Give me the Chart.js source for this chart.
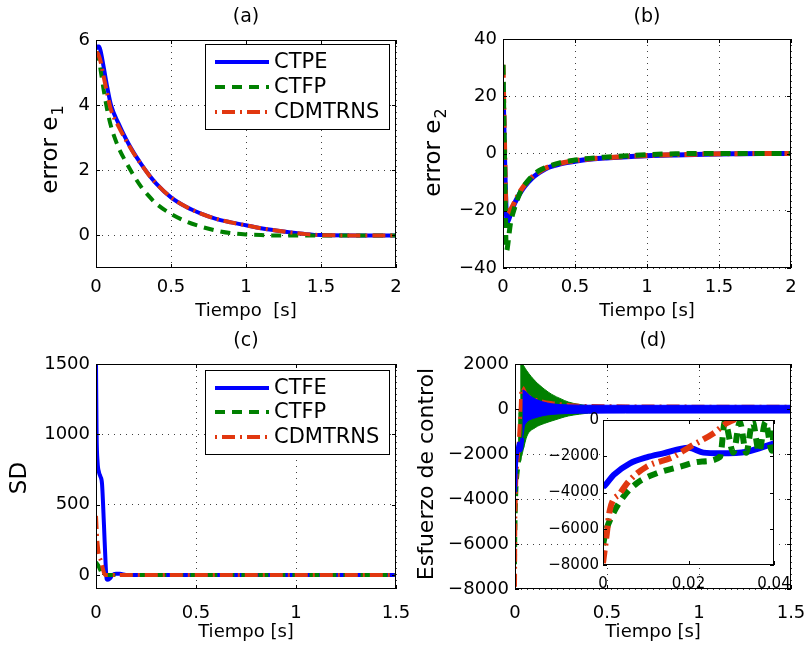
<!DOCTYPE html>
<html>
<head>
<meta charset="utf-8">
<title>Errores y esfuerzo de control</title>
<script src="https://cdn.jsdelivr.net/npm/chart.js@4.4.1/dist/chart.umd.min.js"></script>
<style>
  html, body { margin: 0; padding: 0; background: #fff; }
  body { position: relative; width: 804px; height: 652px; overflow: hidden; }
  canvas { position: absolute; }
</style>
</head>
<body>
<canvas id="panelA" width="430" height="326" style="left:0px;top:0px"></canvas>
<canvas id="panelB" width="430" height="326" style="left:402px;top:0px"></canvas>
<canvas id="panelC" width="430" height="326" style="left:0px;top:326px"></canvas>
<canvas id="panelD" width="430" height="326" style="left:402px;top:326px"></canvas>
<canvas id="inset" width="260" height="200" style="left:540px;top:400px"></canvas>
<script>
// ---- data ----

// (a) error e1
const timeA = [0, 0.01, 0.02, 0.03, 0.05, 0.075, 0.1, 0.15, 0.2, 0.25, 0.3, 0.35, 0.4, 0.5, 0.6, 0.7, 0.8, 0.9, 1.0, 1.1, 1.2, 1.3, 1.4, 1.5, 1.75, 2.0];
const e1CTPE = [5.72, 5.8, 5.8, 5.68, 5.2, 4.55, 4.0, 3.44, 2.96, 2.55, 2.2, 1.88, 1.6, 1.17, 0.88, 0.67, 0.51, 0.4, 0.31, 0.22, 0.15, 0.09, 0.04, 0.01, 0, 0];
const e1CTFP = [5.65, 5.6, 5.4, 5.1, 4.5, 3.85, 3.35, 2.7, 2.25, 1.85, 1.5, 1.22, 0.98, 0.66, 0.43, 0.27, 0.15, 0.07, 0.03, 0.01, 0, 0, 0, 0, 0, 0];
const e1CDMTRNS = [5.6, 5.6, 5.5, 5.35, 4.9, 4.35, 3.85, 3.35, 2.92, 2.53, 2.19, 1.87, 1.6, 1.17, 0.88, 0.67, 0.51, 0.4, 0.31, 0.22, 0.15, 0.09, 0.04, 0.01, 0, 0];

// (b) error e2
const timeB = [0, 0.005, 0.01, 0.015, 0.02, 0.025, 0.03, 0.04, 0.05, 0.06, 0.08, 0.1, 0.125, 0.15, 0.2, 0.25, 0.3, 0.4, 0.5, 0.6, 0.7, 0.8, 1.0, 1.2, 1.4, 1.6, 1.8, 2.0];
const e2CTPE = [25, 12, 0, -10, -18, -22, -24, -23, -21.5, -20, -17.5, -15.5, -13.3, -11.5, -8.7, -6.7, -5.2, -3.6, -2.7, -2.0, -1.6, -1.3, -0.8, -0.5, -0.25, -0.1, 0, 0];
const e2CTFP = [31, 15, 0, -17, -30, -34, -33, -29, -25, -22.5, -19, -16, -13, -11, -8, -6, -4.8, -3.2, -2.3, -1.7, -1.3, -1.0, -0.4, -0.1, 0, 0, 0, 0];
const e2CDMTRNS = [31, 18, 5, -8, -19, -20.5, -21, -20.5, -20, -19, -17, -15, -12.8, -11, -8.3, -6.4, -5.0, -3.4, -2.5, -1.9, -1.5, -1.2, -0.7, -0.4, -0.2, -0.05, 0, 0];

// (c) SD
const timeSDBlue = [0, 0.003, 0.008, 0.015, 0.022, 0.03, 0.04, 0.048, 0.053, 0.06, 0.07, 0.08, 0.1, 0.12, 0.15, 0.5, 1.0, 1.5];
const sdCTFE = [1500, 1000, 800, 730, 700, 650, 350, 80, -30, -35, -25, -5, 8, 8, 0, 0, 0, 0];
const timeSDGreen = [0, 0.01, 0.02, 0.03, 0.04, 0.05, 0.1, 0.5, 1.0, 1.5];
const sdCTFP = [90, 70, 40, 10, -3, 0, 0, 0, 0, 0];
const timeSDRed = [0, 0.004, 0.008, 0.015, 0.025, 0.035, 0.045, 0.1, 0.5, 1.0, 1.5];
const sdCDMTRNS = [420, 300, 220, 140, 100, 40, 0, 0, 0, 0, 0];

// (d) esfuerzo de control
const timeUBlue = [0, 0.0005, 0.0025, 0.0063, 0.0102, 0.0141, 0.02, 0.0235, 0.0274, 0.0336, 0.04];
const uCTFE = [-3700, -3600, -3030, -2390, -2060, -1840, -1530, -1800, -1840, -1750, -1290];
const timeUBlueBand = [0.04, 0.045, 0.05, 0.06, 0.08, 0.11, 0.15, 0.2, 0.29, 0.4, 0.6, 1.0, 1.5];
const uCTFEUpper = [820, 840, 820, 760, 600, 440, 320, 230, 180, 170, 165, 165, 165];
const uCTFELower = [-1300, -1100, -800, -620, -480, -390, -300, -240, -200, -185, -180, -180, -180];

const timeUGreen = [0, 0.0006, 0.0024, 0.0048, 0.0079, 0.0126, 0.018, 0.0227, 0.0274, 0.0285, 0.0305, 0.032, 0.0335, 0.035, 0.0365, 0.038, 0.0395, 0.04];
const uCTFP = [-6900, -6200, -5150, -4230, -3490, -2940, -2580, -2300, -2030, -100, -1800, -100, -1800, -100, -1750, -100, -1700, -200];
const timeUGreenBand = [0.028, 0.035, 0.045, 0.065, 0.11, 0.16, 0.2, 0.25, 0.29, 0.35, 0.4, 0.5, 0.6, 1.5];
const uCTFPUpper = [2100, 2100, 1950, 1690, 1240, 880, 650, 450, 310, 200, 150, 110, 90, 90];
const uCTFPLower = [-2000, -2100, -1800, -1200, -830, -640, -530, -400, -310, -230, -180, -130, -110, -110];

const timeURed = [0, 0.0009, 0.0016, 0.004, 0.0063, 0.0102, 0.0165, 0.0204, 0.0258, 0.0289, 0.0312, 0.035, 0.04, 0.05, 0.06, 0.1, 0.15, 0.2, 0.25, 0.3, 0.4, 1.5];
const uCDMTRNS = [-7900, -6250, -4970, -4040, -3310, -2580, -2030, -1470, -740, -180, 100, 900, 950, 800, 650, 450, 330, 260, 210, 170, 130, 100];

// tick values
const timeTicks2 = [0, 0.5, 1, 1.5, 2];
const timeTicks15 = [0, 0.5, 1, 1.5];
const insetTimeTicks = [0, 0.02, 0.04];
const e1Ticks = [0, 2, 4, 6];
const e2Ticks = [-40, -20, 0, 20, 40];
const sdTicks = [0, 500, 1000, 1500];
const uTicks = [-8000, -6000, -4000, -2000, 0, 2000];
const insetUTicks = [-8000, -6000, -4000, -2000, 0];

// ---- styles ----
const BLUE = '#0000ff';
const GREEN = '#008000';
const RED = 'rgb(225,55,15)';
const DASH = [10, 7];
const DASHDOT = [13, 5, 2, 5];
const FONT = '"DejaVu Sans", sans-serif';

Chart.defaults.font.family = FONT;
Chart.defaults.color = '#000';

const fmt = v => String(v).replace('-', '\u2212');

function line(label, xs, ys, color, dash, width, order) {
  return {
    label: label,
    data: xs.map((x, i) => ({ x: x, y: ys[i] })),
    borderColor: color,
    backgroundColor: color,
    borderWidth: width,
    borderDash: dash,
    pointRadius: 0,
    cubicInterpolationMode: 'monotone',
    fill: false,
    order: order
  };
}

function band(xs, upper, lower, color, order) {
  const top = line('', xs, upper, color, [], 1, order);
  const bottom = line('', xs, lower, color, [], 1, order);
  top.fill = '+1';
  return [top, bottom];
}

// per-canvas decorations (box, inner ticks, title, y label, legend)
const frames = {};

function drawYLabel(ctx, lab) {
  ctx.save();
  ctx.translate(lab.x, lab.y);
  ctx.rotate(-Math.PI / 2);
  ctx.fillStyle = '#000';
  ctx.textBaseline = 'middle';
  ctx.textAlign = 'left';
  ctx.font = lab.size + 'px ' + FONT;
  const w1 = ctx.measureText(lab.text).width;
  const subSize = Math.round(lab.size * 0.68);
  let w2 = 0;
  if (lab.sub) {
    ctx.font = subSize + 'px ' + FONT;
    w2 = ctx.measureText(lab.sub).width;
  }
  const start = -(w1 + w2) / 2;
  ctx.font = lab.size + 'px ' + FONT;
  ctx.fillText(lab.text, start, 0);
  if (lab.sub) {
    ctx.font = subSize + 'px ' + FONT;
    ctx.fillText(lab.sub, start + w1 + 1, lab.size * 0.32);
  }
  ctx.restore();
}

function drawLegend(ctx, chart, lg) {
  ctx.save();
  ctx.fillStyle = '#fff';
  ctx.fillRect(lg.x, lg.y, lg.w, lg.h);
  ctx.strokeStyle = '#000';
  ctx.lineWidth = 1;
  ctx.setLineDash([]);
  ctx.strokeRect(lg.x + 0.5, lg.y + 0.5, lg.w, lg.h);
  lg.items.forEach((idx, i) => {
    const ds = chart.data.datasets[idx];
    const y = lg.rows[i];
    ctx.strokeStyle = ds.borderColor;
    ctx.lineWidth = 4;
    ctx.setLineDash(ds.borderDash || []);
    ctx.lineDashOffset = ds.borderDash === DASHDOT ? 18 : 0;
    ctx.beginPath();
    ctx.moveTo(lg.x + 10, y);
    ctx.lineTo(lg.x + 64, y);
    ctx.stroke();
    ctx.setLineDash([]);
    ctx.fillStyle = '#000';
    ctx.font = '21px ' + FONT;
    ctx.textBaseline = 'middle';
    ctx.textAlign = 'left';
    ctx.fillText(ds.label, lg.x + 69, y + 1);
  });
  ctx.restore();
}

const framePlugin = {
  id: 'frame',
  beforeDraw(chart) {
    const f = frames[chart.canvas.id];
    if (!f.whiteArea) return;
    const a = chart.chartArea;
    chart.ctx.save();
    chart.ctx.fillStyle = '#fff';
    chart.ctx.fillRect(a.left, a.top, a.right - a.left, a.bottom - a.top);
    chart.ctx.restore();
  },
  afterDraw(chart) {
    const f = frames[chart.canvas.id];
    const { ctx, chartArea: a, scales } = chart;
    ctx.save();
    ctx.strokeStyle = '#000';
    ctx.lineWidth = 1;
    ctx.setLineDash([]);
    ctx.beginPath();
    scales.x.ticks.forEach(t => {
      const px = Math.round(scales.x.getPixelForValue(t.value)) + 0.5;
      ctx.moveTo(px, a.bottom); ctx.lineTo(px, a.bottom - 4);
      ctx.moveTo(px, a.top); ctx.lineTo(px, a.top + 4);
    });
    scales.y.ticks.forEach(t => {
      const py = Math.round(scales.y.getPixelForValue(t.value)) + 0.5;
      ctx.moveTo(a.left, py); ctx.lineTo(a.left + 4, py);
      ctx.moveTo(a.right, py); ctx.lineTo(a.right - 4, py);
    });
    ctx.stroke();
    ctx.strokeRect(a.left + 0.5, a.top + 0.5, a.right - a.left - 1, a.bottom - a.top - 1);
    if (f.title) {
      ctx.fillStyle = '#000';
      ctx.font = '19px ' + FONT;
      ctx.textAlign = 'center';
      ctx.textBaseline = 'middle';
      ctx.fillText(f.title, (a.left + a.right) / 2, f.titleY);
    }
    ctx.restore();
    if (f.yLabel) drawYLabel(ctx, f.yLabel);
    if (f.legend) drawLegend(ctx, chart, f.legend);
  }
};

function makePanel(id, p) {
  frames[id] = p.frame;
  return new Chart(document.getElementById(id), {
    type: 'line',
    data: { datasets: p.datasets },
    options: {
      responsive: false,
      animation: false,
      events: [],
      layout: { padding: { left: 0, top: p.padTop, right: p.padRight, bottom: 0 } },
      scales: {
        x: {
          type: 'linear',
          min: p.xTicks[0],
          max: p.xTicks[p.xTicks.length - 1],
          afterBuildTicks: s => { s.ticks = p.xTicks.map(v => ({ value: v })); },
          afterFit: s => { s.height = p.xHeight; s.paddingLeft = 0; s.paddingRight = 0; },
          grid: { display: p.grid, color: 'rgba(0,0,0,0.75)', lineWidth: 1, drawTicks: false },
          border: { display: false, dash: [1, 5] },
          ticks: { padding: p.xPad, font: { size: p.tickSize }, maxRotation: 0, autoSkip: false, callback: v => fmt(v) },
          title: { display: !!p.xTitle, text: p.xTitle, font: { size: 18 }, padding: { top: 0, bottom: p.xTitlePad } }
        },
        y: {
          type: 'linear',
          min: p.yMin,
          max: p.yMax,
          afterBuildTicks: s => { s.ticks = p.yTicks.map(v => ({ value: v })); },
          afterFit: s => { s.width = p.yWidth; s.paddingTop = 0; s.paddingBottom = 0; },
          grid: { display: p.grid, color: 'rgba(0,0,0,0.75)', lineWidth: 1, drawTicks: false },
          border: { display: false, dash: [1, 5] },
          ticks: { padding: p.yPad, font: { size: p.tickSize }, autoSkip: false, callback: v => fmt(v) }
        }
      },
      plugins: { legend: { display: false }, tooltip: { enabled: false }, title: { display: false } }
    },
    plugins: [framePlugin]
  });
}

// (a)
makePanel('panelA', {
  datasets: [
    line('CTPE', timeA, e1CTPE, BLUE, [], 4, 2),
    line('CTFP', timeA, e1CTFP, GREEN, DASH, 4, 1),
    line('CDMTRNS', timeA, e1CDMTRNS, RED, DASHDOT, 4, 0)
  ],
  xTicks: timeTicks2, yMin: -1, yMax: 6, yTicks: e1Ticks,
  padTop: 40, padRight: 34, yWidth: 96, xHeight: 58,
  xPad: 9, yPad: 6, tickSize: 18, grid: true,
  xTitle: 'Tiempo  [s]', xTitlePad: 4,
  frame: {
    title: '(a)', titleY: 17,
    yLabel: { text: 'error e', sub: '1', x: 51, y: 150, size: 23 },
    legend: { x: 205, y: 44, w: 184, h: 85, rows: [62, 87, 112], items: [0, 1, 2] }
  }
});

// (b)
makePanel('panelB', {
  datasets: [
    line('CTPE', timeB, e2CTPE, BLUE, [], 5, 2),
    line('CTFP', timeB, e2CTFP, GREEN, DASH, 5, 0),
    line('CDMTRNS', timeB, e2CDMTRNS, RED, DASHDOT, 5, 1)
  ],
  xTicks: timeTicks2, yMin: -40, yMax: 40, yTicks: e2Ticks,
  padTop: 39, padRight: 41, yWidth: 101, xHeight: 58,
  xPad: 9, yPad: 6, tickSize: 18, grid: true,
  xTitle: 'Tiempo [s]', xTitlePad: 4,
  frame: {
    title: '(b)', titleY: 17,
    yLabel: { text: 'error e', sub: '2', x: 32, y: 153, size: 23 }
  }
});

// (c)
makePanel('panelC', {
  datasets: [
    line('CTFE', timeSDBlue, sdCTFE, BLUE, [], 4, 2),
    line('CTFP', timeSDGreen, sdCTFP, GREEN, DASH, 4, 1),
    line('CDMTRNS', timeSDRed, sdCDMTRNS, RED, DASHDOT, 4, 0)
  ],
  xTicks: timeTicks15, yMin: -100, yMax: 1500, yTicks: sdTicks,
  padTop: 38, padRight: 34, yWidth: 96, xHeight: 63,
  xPad: 14, yPad: 6, tickSize: 18, grid: true,
  xTitle: 'Tiempo [s]', xTitlePad: 9,
  frame: {
    title: '(c)', titleY: 15,
    yLabel: { text: 'SD', x: 20, y: 152, size: 23 },
    legend: { x: 205, y: 44, w: 184, h: 84, rows: [62, 86, 111], items: [0, 1, 2] }
  }
});

// (d)
const blueBand = band(timeUBlueBand, uCTFEUpper, uCTFELower, BLUE, 0);
const greenBand = band(timeUGreenBand, uCTFPUpper, uCTFPLower, GREEN, 2);
makePanel('panelD', {
  datasets: [
    blueBand[0], blueBand[1],
    line('CTFE', timeUBlue, uCTFE, BLUE, [], 4, 0),
    line('CDMTRNS', timeURed, uCDMTRNS, RED, DASHDOT, 4, 1),
    greenBand[0], greenBand[1],
    line('CTFP', timeUGreen, uCTFP, GREEN, DASH, 4, 2)
  ],
  xTicks: timeTicks15, yMin: -8000, yMax: 2000, yTicks: uTicks,
  padTop: 38, padRight: 41, yWidth: 113, xHeight: 63,
  xPad: 14, yPad: 6, tickSize: 18, grid: true,
  xTitle: 'Tiempo [s]', xTitlePad: 9,
  frame: {
    title: '(d)', titleY: 15,
    yLabel: { text: 'Esfuerzo de control', x: 25, y: 148, size: 22 }
  }
});

// (d) inset: first 0.04 s
makePanel('inset', {
  datasets: [
    line('CTFE', timeUBlue, uCTFE, BLUE, [], 6, 2),
    line('CTFP', timeUGreen, uCTFP, GREEN, DASH, 6, 1),
    line('CDMTRNS', timeURed, uCDMTRNS, RED, DASHDOT, 6, 0)
  ],
  xTicks: insetTimeTicks, yMin: -8000, yMax: 0, yTicks: insetUTicks,
  padTop: 20, padRight: 26, yWidth: 63, xHeight: 35,
  xPad: 10, yPad: 4, tickSize: 15, grid: false,
  xTitle: '', xTitlePad: 0,
  frame: { whiteArea: true }
});
</script>
</body>
</html>
